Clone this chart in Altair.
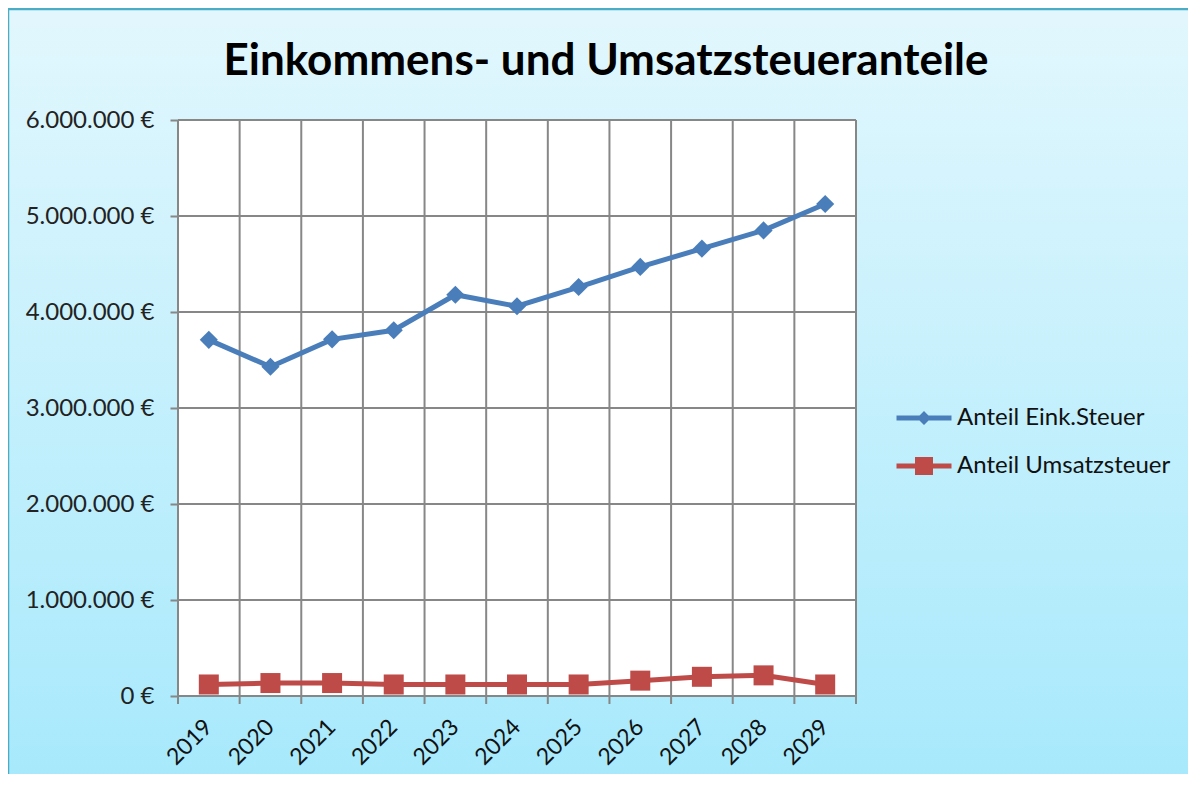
import altair as alt
import pandas as pd

# ---- data ----
years = ["2019", "2020", "2021", "2022", "2023", "2024", "2025", "2026", "2027", "2028", "2029"]
eink_steuer = [3710000, 3430000, 3715000, 3810000, 4180000, 4060000, 4260000, 4470000, 4660000, 4850000, 5125000]
umsatz_steuer = [120000, 135000, 135000, 120000, 120000, 120000, 120000, 160000, 200000, 215000, 120000]
series_names = ["Anteil Eink.Steuer", "Anteil Umsatzsteuer"]
series_colors = ["#4a7ebb", "#be4b48"]
y_ticks = [0, 1000000, 2000000, 3000000, 4000000, 5000000, 6000000]
title_text = "Einkommens- und Umsatzsteueranteile"

df = pd.DataFrame({
    "year": years * 2,
    "value": eink_steuer + umsatz_steuer,
    "series": [series_names[0]] * len(years) + [series_names[1]] * len(years),
})
df_years = pd.DataFrame({"year": years})
df_last = pd.DataFrame({"year": years[-1:]})
df_ticks = pd.DataFrame({"v": y_ticks})

# ---- layout / style ----
W, H = 678, 576
PAD_L, PAD_T, PAD_R, PAD_B = 170, 112, 332, 78
GRID = "#878787"
FONT = "Lato"

xscale = alt.Scale(type="band", domain=years, paddingInner=0, paddingOuter=0)
yscale = alt.Scale(domain=[0, 6000000], nice=False)

xaxis = alt.Axis(title=None, grid=False, domain=False, ticks=False, labelAngle=315,
                 labelAlign="right", labelBaseline="middle", labelPadding=27,
                 labelFont=FONT, labelFontSize=23, labelColor="#111111", zindex=1)
yaxis = alt.Axis(title=None, grid=False, domain=False, ticks=True, tickSize=8, tickWidth=2,
                 tickColor=GRID, values=y_ticks, labelPadding=16, labelFont=FONT,
                 labelFontSize=24, labelColor="#222222", zindex=1,
                 labelExpr="replace(replace(replace(format(datum.value, ','), ',', '.'), ',', '.'), ',', '.') + ' €'")

one = pd.DataFrame({"a": [0]})
gradient = alt.LinearGradient(
    gradient="linear", x1=0, x2=0, y1=0, y2=1,
    stops=[alt.GradientStop(color="#e2f7fd", offset=0), alt.GradientStop(color="#a3e8fc", offset=1)],
)
bg = alt.Chart(one).mark_rect(fill=gradient, stroke="#4bacc6", strokeWidth=2.5).encode(
    x=alt.value(-PAD_L), x2=alt.value(W + PAD_R + 60), y=alt.value(-PAD_T + 1), y2=alt.value(H + PAD_B + 60)
)
plot_bg = alt.Chart(one).mark_rect(fill="white").encode(
    x=alt.value(0), x2=alt.value(W), y=alt.value(0), y2=alt.value(H)
)
title = alt.Chart(one).mark_text(
    text=title_text, font=FONT, fontSize=44, fontWeight="bold", color="#000000",
    align="center", baseline="alphabetic",
).encode(x=alt.value(428), y=alt.value(-45))

hgrid = alt.Chart(df_ticks).mark_rule(color=GRID, strokeWidth=2).encode(
    y=alt.Y("v:Q", scale=yscale, axis=yaxis)
)
vgrid = alt.Chart(df_years).mark_rule(color=GRID, strokeWidth=2).encode(
    x=alt.X("year:O", bandPosition=0, scale=xscale, axis=xaxis),
    y=alt.value(0), y2=alt.value(H + 8)
)
vgrid_end = alt.Chart(df_last).mark_rule(color=GRID, strokeWidth=2).encode(
    x=alt.X("year:O", bandPosition=1, scale=xscale, axis=xaxis),
    y=alt.value(0), y2=alt.value(H + 8)
)

layers = [bg, plot_bg, title, hgrid, vgrid, vgrid_end]
shapes = ["diamond", "square"]
sizes = [330, 400]
for name, col, shp, sz in zip(series_names, series_colors, shapes, sizes):
    base = alt.Chart(df).transform_filter(alt.datum.series == name)
    layers.append(base.mark_line(color=col, strokeWidth=5).encode(
        x=alt.X("year:O", scale=xscale, axis=xaxis),
        y=alt.Y("value:Q", scale=yscale, axis=yaxis),
    ))
    layers.append(base.mark_point(shape=shp, filled=True, size=sz, color=col, opacity=1, strokeWidth=0).encode(
        x=alt.X("year:O", scale=xscale, axis=xaxis),
        y=alt.Y("value:Q", scale=yscale, axis=yaxis),
    ))

# legend symbols: line + marker
p_diamond = ("M-2.75,-0.25 L-0.45,-0.25 L0,-0.7 L0.45,-0.25 L2.75,-0.25 L2.75,0.25 "
             "L0.45,0.25 L0,0.7 L-0.45,0.25 L-2.75,0.25 Z")
p_square = ("M-2.75,-0.25 L-0.9,-0.25 L-0.9,-0.9 L0.9,-0.9 L0.9,-0.25 L2.75,-0.25 L2.75,0.25 "
            "L0.9,0.25 L0.9,0.9 L-0.9,0.9 L-0.9,0.25 L-2.75,0.25 Z")
leg = alt.Legend(title=None, orient="none", legendX=734, legendY=286, symbolSize=400,
                 labelOffset=21, labelFont=FONT, labelFontSize=24, labelColor="#111111",
                 labelLimit=400, rowPadding=24, padding=0, symbolStrokeWidth=0, symbolOpacity=1)
legend_layer = alt.Chart(df).transform_filter("false").mark_point(filled=True, opacity=1).encode(
    x=alt.X("year:O", scale=xscale, axis=xaxis),
    y=alt.Y("value:Q", scale=yscale, axis=yaxis),
    color=alt.Color("series:N", scale=alt.Scale(domain=series_names, range=series_colors), legend=leg),
    shape=alt.Shape("series:N", scale=alt.Scale(domain=series_names, range=[p_diamond, p_square]), legend=leg),
)
layers.append(legend_layer)

chart = alt.layer(*layers).properties(
    width=W, height=H,
    autosize=alt.AutoSizeParams(type="none"),
    padding={"left": PAD_L, "top": PAD_T, "right": PAD_R, "bottom": PAD_B},
).configure_view(strokeWidth=0)

chart.save("out.html", embed_options={"renderer": "svg", "actions": False})
